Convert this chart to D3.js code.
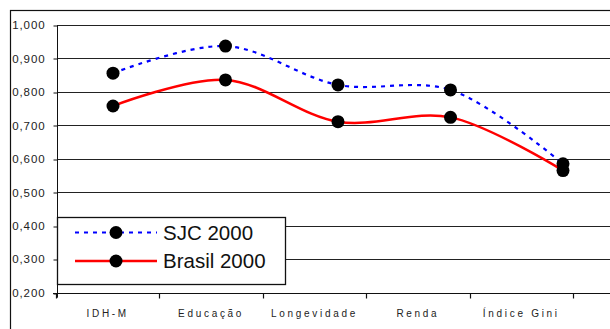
<!DOCTYPE html>
<html>
<head>
<meta charset="utf-8">
<script src="https://cdn.jsdelivr.net/npm/d3@7/dist/d3.min.js"></script>
<style>
  html, body { margin: 0; padding: 0; background: #fff; }
  svg { display: block; }
</style>
</head>
<body>
<svg id="chart" width="610" height="329"></svg>
<script>
// Indicadores de desenvolvimento: São José dos Campos x Brasil (2000)
const categories = ["IDH-M", "Educação", "Longevidade", "Renda", "Índice Gini"];
const sjc2000    = [0.856, 0.937, 0.821, 0.806, 0.585];
const brasil2000 = [0.758, 0.836, 0.711, 0.724, 0.565];
const yTicks     = [0.2, 0.3, 0.4, 0.5, 0.6, 0.7, 0.8, 0.9, 1.0];
const seriesNames = ["SJC 2000", "Brasil 2000"];

const svg = d3.select("#chart");
const fmt = v => d3.format(".3f")(v).replace(".", ",");

// Scales
const y = d3.scaleLinear().domain([0.2, 1.0]).range([292.7, 25]);
const xBand = d3.scaleBand().domain(categories).range([56, 573]);   // category axis
const xPt = d3.scalePoint().domain(categories).range([113, 563]);   // plotted markers

// Outer frame
svg.append("rect")
  .attr("x", 10.5).attr("y", 10.5).attr("width", 640).attr("height", 360)
  .attr("fill", "none").attr("stroke", "#111").attr("stroke-width", 1.2);

// Horizontal gridlines
svg.append("g").selectAll("line").data(yTicks.slice(1)).join("line")
  .attr("x1", 57).attr("x2", 612)
  .attr("y1", d => Math.round(y(d)) + 0.5).attr("y2", d => Math.round(y(d)) + 0.5)
  .attr("stroke", "#222").attr("stroke-width", 1.1);

// Y axis
const yAxis = svg.append("g")
  .attr("transform", "translate(57.5,0)")
  .call(d3.axisLeft(y).tickValues(yTicks).tickFormat(fmt).tickSize(4).tickPadding(8));
yAxis.select(".domain").attr("stroke", "#111").attr("d", `M0,${y(1.0)}V${y(0.2) + 5}`);
yAxis.selectAll(".tick line").attr("stroke", "#111")
  .attr("transform", d => `translate(0,${Math.round(y(d)) + 0.5 - y(d)})`);
yAxis.selectAll("text")
  .attr("font-family", "Liberation Sans, Arial, sans-serif")
  .attr("font-size", 11.5).attr("letter-spacing", "0.9px").attr("fill", "#222");

// X axis line and category boundary ticks
const xLineY = Math.round(y(0.2)) + 0.5;
svg.append("line").attr("x1", 53).attr("x2", 612).attr("y1", xLineY).attr("y2", xLineY)
  .attr("stroke", "#111").attr("stroke-width", 1.2);
const bounds = categories.map(c => xBand(c)).concat([xBand.range()[1]]);
svg.append("g").selectAll("line").data(bounds).join("line")
  .attr("x1", d => Math.round(d) + 0.5).attr("x2", d => Math.round(d) + 0.5)
  .attr("y1", xLineY).attr("y2", xLineY + 5)
  .attr("stroke", "#111").attr("stroke-width", 1.2);
svg.append("g").selectAll("text").data(categories).join("text")
  .attr("x", d => xBand(d) + xBand.bandwidth() / 2)
  .attr("y", 316.5)
  .attr("text-anchor", "middle")
  .attr("font-family", "Liberation Sans, Arial, sans-serif")
  .attr("font-size", 10).attr("letter-spacing", "2.7px").attr("fill", "#222")
  .text(d => d);

// Series lines
const line = d3.line().curve(d3.curveCatmullRom.alpha(0.5))
  .x((d, i) => xPt(categories[i])).y(d => y(d));

svg.append("path").datum(brasil2000).attr("d", line)
  .attr("fill", "none").attr("stroke", "#ff0000").attr("stroke-width", 2.5);
svg.append("path").datum(sjc2000).attr("d", line)
  .attr("fill", "none").attr("stroke", "#0000ff").attr("stroke-width", 2.2)
  .attr("stroke-dasharray", "4,5");

// Markers
[sjc2000, brasil2000].forEach(series => {
  svg.append("g").selectAll("circle").data(series).join("circle")
    .attr("cx", (d, i) => xPt(categories[i])).attr("cy", d => y(d))
    .attr("r", 6.5).attr("fill", "#000");
});

// Legend
const lg = svg.append("g");
lg.append("rect").attr("x", 57.5).attr("y", 217.5).attr("width", 228).attr("height", 67)
  .attr("fill", "#fff").attr("stroke", "#111").attr("stroke-width", 1.3);
const legendRows = [
  { name: seriesNames[0], color: "#0000ff", dash: "4,5", w: 2.2, cy: 232.5 },
  { name: seriesNames[1], color: "#ff0000", dash: null, w: 2.5, cy: 261 }
];
legendRows.forEach(r => {
  lg.append("line").attr("x1", 75).attr("x2", 157).attr("y1", r.cy).attr("y2", r.cy)
    .attr("stroke", r.color).attr("stroke-width", r.w)
    .attr("stroke-dasharray", r.dash);
  lg.append("circle").attr("cx", 116).attr("cy", r.cy).attr("r", 6.5).attr("fill", "#000");
  lg.append("text").attr("x", 163).attr("y", r.cy + 7)
    .attr("font-family", "Liberation Sans, Arial, sans-serif")
    .attr("font-size", 20.5).attr("fill", "#111")
    .text(r.name);
});
</script>
</body>
</html>
